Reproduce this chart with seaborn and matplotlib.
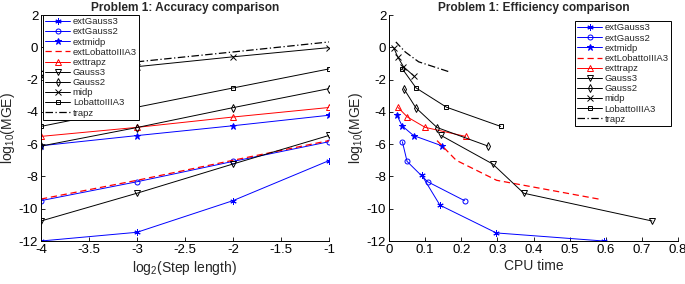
import numpy as np
import pandas as pd
import matplotlib
matplotlib.use("Agg")
import matplotlib.pyplot as plt
import seaborn as sns

sns.set_style("white")
plt.rcParams['font.family'] = ['Liberation Sans', 'DejaVu Sans']
plt.rcParams['axes.unicode_minus'] = False
plt.rcParams['mathtext.fontset'] = 'custom'
plt.rcParams['mathtext.rm'] = 'Liberation Sans'
plt.rcParams['mathtext.it'] = 'Liberation Sans'

# ---- data ----
methods = ["extGauss3", "extGauss2", "extmidp", "extLobattoIIIA3", "exttrapz",
           "Gauss3", "Gauss2", "midp", "LobattoIIIA3", "trapz"]
log2_step = [-4, -3, -2, -1]

err_extGauss3 = [-12.0, -11.46, -9.5, -7.02]
err_extGauss2 = [-9.5, -8.33, -7.07, -5.85]
err_extmidp = [-6.1, -5.47, -4.86, -4.21]
err_extLobattoIIIA3 = [-9.4, -8.24, -7.0, -5.78]
err_exttrapz = [-5.52, -4.96, -4.32, -3.73]
err_Gauss3 = [-10.76, -9.04, -7.23, -5.46]
err_Gauss2 = [-6.12, -4.97, -3.74, -2.56]
err_midp = [-1.78, -1.2, -0.59, -0.02]
err_LobattoIIIA3 = [-4.9, -3.71, -2.52, -1.34]
err_trapz = [-1.5, -0.9, -0.29, 0.33]

# efficiency panel (CPU time for step -4 .. -1)
cpu_extGauss3 = [0.594, 0.297, 0.141, 0.090]
eff_extGauss3 = [-12.0, -11.5, -9.78, -7.9]
cpu_extGauss2 = [0.209, 0.107, 0.050, 0.037]
cpu_extmidp = [0.146, 0.068, 0.036, 0.022]
cpu_extLobattoIIIA3 = [0.580, 0.298, 0.186, 0.133]
cpu_exttrapz = [0.212, 0.100, 0.051, 0.025]
cpu_Gauss3 = [0.728, 0.373, 0.287, 0.144]
cpu_Gauss2 = [0.274, 0.133, 0.074, 0.041]
cpu_midp = [0.069, 0.040, 0.024, 0.013]
cpu_LobattoIIIA3 = [0.309, 0.159, 0.075, 0.037]
cpu_trapz = [0.164, 0.082, 0.045, 0.019]

acc = {"extGauss3": err_extGauss3, "extGauss2": err_extGauss2, "extmidp": err_extmidp,
       "extLobattoIIIA3": err_extLobattoIIIA3, "exttrapz": err_exttrapz,
       "Gauss3": err_Gauss3, "Gauss2": err_Gauss2, "midp": err_midp,
       "LobattoIIIA3": err_LobattoIIIA3, "trapz": err_trapz}
cpu = {"extGauss3": cpu_extGauss3, "extGauss2": cpu_extGauss2, "extmidp": cpu_extmidp,
       "extLobattoIIIA3": cpu_extLobattoIIIA3, "exttrapz": cpu_exttrapz,
       "Gauss3": cpu_Gauss3, "Gauss2": cpu_Gauss2, "midp": cpu_midp,
       "LobattoIIIA3": cpu_LobattoIIIA3, "trapz": cpu_trapz}
eff = dict(acc)
eff["extGauss3"] = eff_extGauss3

# ---- styles ----
style = {
    "extGauss3": dict(color="#0000ff", marker=(6, 2, 0), ls="-", ms=4.5, mfc="#0000ff"),
    "extGauss2": dict(color="#0000ff", marker="o", ls="-", ms=3.6, mfc="none"),
    "extmidp": dict(color="#0000ff", marker="*", ls="-", ms=5, mfc="#0000ff"),
    "extLobattoIIIA3": dict(color="#ff0000", marker=None, ls=(0, (5, 3)), ms=0, mfc="none"),
    "exttrapz": dict(color="#ff0000", marker="^", ls="-", ms=4.5, mfc="none"),
    "Gauss3": dict(color="black", marker="v", ls="-", ms=4, mfc="none"),
    "Gauss2": dict(color="black", marker="d", ls="-", ms=4, mfc="none"),
    "midp": dict(color="black", marker="x", ls="-", ms=4, mfc="none"),
    "LobattoIIIA3": dict(color="black", marker="s", ls="-", ms=3.3, mfc="none"),
    "trapz": dict(color="black", marker=None, ls=(0, (6, 2, 1, 2)), ms=0, mfc="none"),
}

fig = plt.figure(figsize=(6.85, 2.84), dpi=100)
ax1 = fig.add_axes([41/685, 1 - 241/284, 288/685, 226/284])
ax2 = fig.add_axes([389/685, 1 - 241/284, 289/685, 226/284])

def draw(ax, xs_map, ys_map):
    for m in methods:
        s = style[m]
        kw = dict(color=s["color"], linestyle=s["ls"], linewidth=0.7, label=m)
        if s["marker"] is not None:
            kw.update(marker=s["marker"], markersize=s["ms"], mfc=s["mfc"],
                      mec=s["color"], mew=0.7)
        else:
            kw.update(linewidth=0.9)
        sns.lineplot(x=xs_map(m), y=ys_map[m], ax=ax, sort=False, **kw)

draw(ax1, lambda m: log2_step, acc)
draw(ax2, lambda m: cpu[m], eff)

for ax in (ax1, ax2):
    ax.set_ylim(-12, 2)
    ax.set_yticks(np.arange(-12, 3, 2))
    ax.set_yticklabels([str(v) for v in range(-12, 3, 2)])
    for sp in ("top", "right"):
        ax.spines[sp].set_visible(False)
    for sp in ("left", "bottom"):
        ax.spines[sp].set_color("black")
        ax.spines[sp].set_linewidth(0.7)
    ax.tick_params(direction="in", length=3, width=0.6, labelsize=9.5,
                   colors="black", left=True, bottom=True, pad=2)
    ax.set_ylabel("log$_{10}$(MGE)", fontsize=10, labelpad=1)
    ax.grid(False)

ax1.set_xlim(-4, -1)
ax1.set_xticks(np.arange(-4, -0.99, 0.5))
ax1.set_xticklabels(["-4", "-3.5", "-3", "-2.5", "-2", "-1.5", "-1"])
ax1.set_xlabel("log$_2$(Step length)", fontsize=10, labelpad=2)
ax1.set_title("Problem 1: Accuracy comparison", fontsize=8.6, fontweight="bold", pad=3)

ax2.set_xlim(0, 0.8)
ax2.set_xticks(np.arange(0, 0.81, 0.1))
ax2.set_xticklabels(["0", "0.1", "0.2", "0.3", "0.4", "0.5", "0.6", "0.7", "0.8"])
ax2.set_xlabel("CPU time", fontsize=10, labelpad=2)
ax2.set_title("Problem 1: Efficiency comparison", fontsize=8.6, fontweight="bold", pad=3)

leg_kw = dict(fontsize=6.8, frameon=True, fancybox=False, borderpad=0.25,
              labelspacing=0.12, handlelength=2.6, handletextpad=0.3,
              borderaxespad=0.0)
l1 = ax1.legend(loc="upper left", bbox_to_anchor=(0.007, 1.0), **leg_kw)
l2 = ax2.legend(loc="upper right", bbox_to_anchor=(0.976, 0.973), **leg_kw)
for lg in (l1, l2):
    fr = lg.get_frame()
    fr.set_edgecolor("black")
    fr.set_linewidth(0.7)
    fr.set_alpha(1)

fig.savefig("out.png", dpi=100)
